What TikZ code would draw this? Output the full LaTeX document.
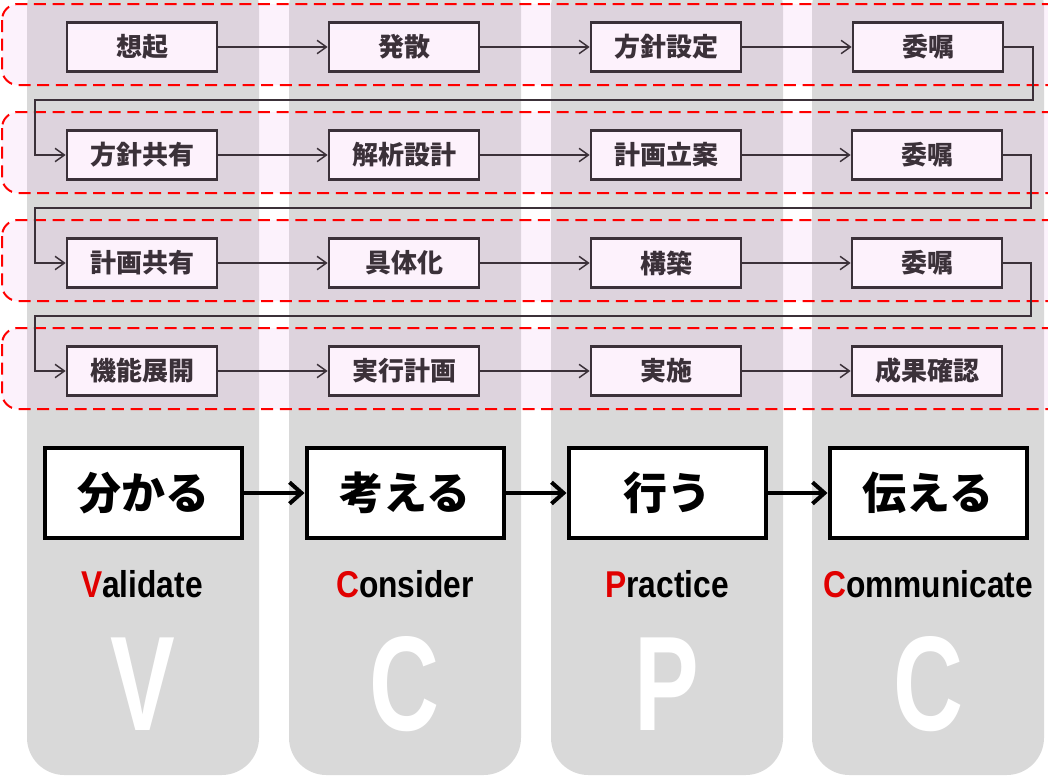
\documentclass[tikz,border=0pt]{standalone}
\usepackage{fontspec}
\usepackage{tikz}
\usetikzlibrary{arrows.meta}
\newfontfamily\jpfont{Noto Sans CJK JP}
\newfontfamily\jpblack{Noto Sans CJK JP Black}
\newfontfamily\latinfont[FakeStretch=0.85]{Liberation Sans}
\newfontfamily\bigletterfont[FakeStretch=0.72]{Liberation Sans}
\definecolor{colgray}{RGB}{217,217,217}
\definecolor{bandpink}{RGB}{240,190,240}
\definecolor{boxfill}{RGB}{253,242,252}
\definecolor{boxline}{RGB}{59,49,57}
\definecolor{capred}{RGB}{225,0,0}

\begin{document}
\begin{tikzpicture}[x=0.75pt,y=0.75pt,yscale=-1,xscale=1,
	stepbox/.style={draw=boxline,fill=boxfill,line width=2pt,minimum width=112.5pt,minimum height=36.75pt,inner sep=0pt,text=boxline,font=\jpfont\bfseries\fontsize{19.5}{22}\selectfont},
	flowline/.style={draw=boxline,line width=1.1pt,-{Straight Barb[length=7pt,width=10pt]}},
	phasebox/.style={draw=black,fill=white,line width=3pt,minimum width=147.75pt,minimum height=67.5pt,inner sep=0pt,font=\jpblack\fontsize{33}{38}\selectfont},
	phasearrow/.style={draw=black,line width=3pt,-{Straight Barb[length=9pt,width=16pt]}},
	wordlabel/.style={inner sep=0pt,font=\latinfont\bfseries\fontsize{28}{32}\selectfont},
	bigletter/.style={inner sep=0pt,text=white,font=\bigletterfont\bfseries\fontsize{101}{110}\selectfont},
	bandline/.style={draw=red,dash pattern={on 9pt off 5pt},line width=1.5pt,fill=bandpink,fill opacity=0.2,rounded corners=12}]
	\useasboundingbox (0,0) rectangle (1048,778);
	
	%Shape: Rounded Rect [columns]
	\foreach \cx in {27,289,551,812}
		\fill [colgray,rounded corners=28] (\cx,-30) rectangle ++(232,805);
	
	%Shape: Rounded Rect [dashed bands]
	\foreach \by in {4,112,220,328}
		\draw [bandline] (2,\by) rectangle ++(1070,81);
	
	% Step Nodes
	\node [stepbox] (r1c1) at (142,47) {想起};
	\node [stepbox] (r1c2) at (404,47) {発散};
	\node [stepbox] (r1c3) at (666,47) {方針設定};
	\node [stepbox] (r1c4) at (928,47) {委嘱};
	\node [stepbox] (r2c1) at (142,155) {方針共有};
	\node [stepbox] (r2c2) at (404,155) {解析設計};
	\node [stepbox] (r2c3) at (666,155) {計画立案};
	\node [stepbox] (r2c4) at (927,155) {委嘱};
	\node [stepbox] (r3c1) at (142,263) {計画共有};
	\node [stepbox] (r3c2) at (404,263) {具体化};
	\node [stepbox] (r3c3) at (666,263) {構築};
	\node [stepbox] (r3c4) at (927,263) {委嘱};
	\node [stepbox] (r4c1) at (142,371) {機能展開};
	\node [stepbox] (r4c2) at (404,371) {実行計画};
	\node [stepbox] (r4c3) at (666,371) {実施};
	\node [stepbox] (r4c4) at (927,371) {成果確認};
	
	%Straight Lines [within rows]
	\foreach \r in {1,2,3,4}{
		\draw [flowline] (r\r c1) -- (r\r c2);
		\draw [flowline] (r\r c2) -- (r\r c3);
		\draw [flowline] (r\r c3) -- (r\r c4);
	}
	
	%Straight Lines [row returns]
	\coordinate (ret1r) at (1033,100);
	\coordinate (ret1l) at (35,100);
	\coordinate (ret2r) at (1031,208);
	\coordinate (ret2l) at (35,208);
	\coordinate (ret3r) at (1031,316);
	\coordinate (ret3l) at (35,316);
	\draw [flowline] (r1c4.east) -| (ret1r) -- (ret1l) |- (r2c1.west);
	\draw [flowline] (r2c4.east) -| (ret2r) -- (ret2l) |- (r3c1.west);
	\draw [flowline] (r3c4.east) -| (ret3r) -- (ret3l) |- (r4c1.west);
	
	% Phase Nodes
	\node [phasebox] (wakaru) at (143,493) {分かる};
	\node [phasebox] (kangaeru) at (405,493) {考える};
	\node [phasebox] (okonau) at (667,493) {行う};
	\node [phasebox] (tsutaeru) at (928,493) {伝える};
	\draw [phasearrow] (wakaru) -- (kangaeru);
	\draw [phasearrow] (kangaeru) -- (okonau);
	\draw [phasearrow] (okonau) -- (tsutaeru);
	
	% Text Node
	\node [wordlabel] (validate) at (142,584) {\textcolor{capred}{V}alidate};
	\node [wordlabel] (consider) at (405,584) {\textcolor{capred}{C}onsider};
	\node [wordlabel] (practice) at (667,584) {\textcolor{capred}{P}ractice};
	\node [wordlabel] (communicate) at (928,584) {\textcolor{capred}{C}ommunicate};
	
	% Text Node
	\node [bigletter] (bigv) at (143,684) {V};
	\node [bigletter] (bigc) at (405,684) {C};
	\node [bigletter] (bigp) at (667,684) {P};
	\node [bigletter] (bigcc) at (928,684) {C};
	
\end{tikzpicture}
\end{document}
